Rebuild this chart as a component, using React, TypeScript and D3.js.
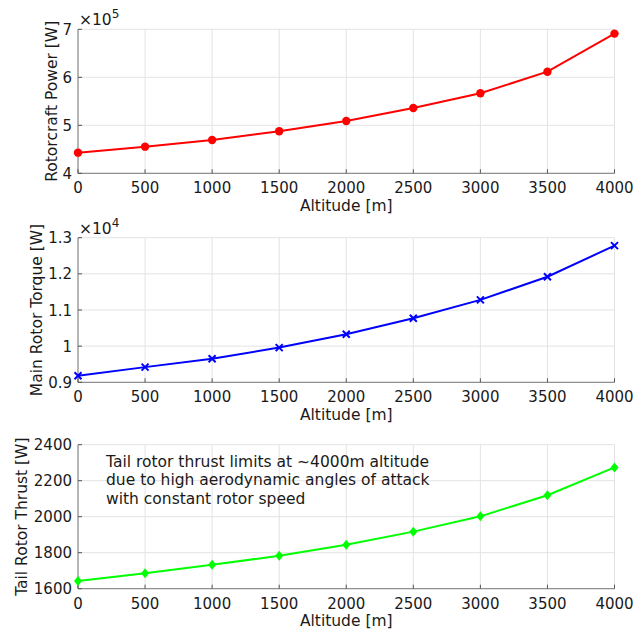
import * as d3 from "d3";

const ALTITUDES = [0, 500, 1000, 1500, 2000, 2500, 3000, 3500, 4000];
const X_TICKS = [0, 500, 1000, 1500, 2000, 2500, 3000, 3500, 4000];

// rotorcraft power, x1e5 W
const POWER = [4.43, 4.555, 4.695, 4.875, 5.09, 5.36, 5.667, 6.117, 6.91];
const POWER_TICKS = [4, 5, 6, 7];

// main rotor torque, x1e4
const TORQUE = [0.918, 0.942, 0.965, 0.996, 1.033, 1.077, 1.128, 1.192, 1.278];
const TORQUE_TICKS = [0.9, 1.0, 1.1, 1.2, 1.3];

// tail rotor thrust
const THRUST = [1643, 1686, 1733, 1783, 1844, 1917, 2002, 2119, 2274];
const THRUST_TICKS = [1600, 1800, 2000, 2200, 2400];

const NOTE = [
  "Tail rotor thrust limits at ~4000m altitude",
  "due to high aerodynamic angles of attack",
  "with constant rotor speed",
];

const FONT = "'DejaVu Sans', sans-serif";
const LEFT = 78;
const RIGHT = 614.5;
const TICK_FS = 15;
const LABEL_FS = 15.5;

type PanelProps = {
  top: number;
  bottom: number;
  values: number[];
  ticks: number[];
  domain: [number, number];
  color: string;
  marker: "circle" | "x" | "diamond";
  ylabel: string;
  ylabelX: number;
  exponent?: string;
  fmt: (v: number) => string;
};

function Panel(p: PanelProps) {
  const x = d3.scaleLinear().domain([0, 4000]).range([LEFT, RIGHT]);
  const y = d3.scaleLinear().domain(p.domain).range([p.bottom, p.top]);
  const line = d3
    .line<number>()
    .x((_, i) => x(ALTITUDES[i]))
    .y((d) => y(d));

  const marker = (cx: number, cy: number, i: number) => {
    if (p.marker === "circle")
      return <circle key={i} cx={cx} cy={cy} r={4.2} fill={p.color} />;
    if (p.marker === "x")
      return (
        <path
          key={i}
          d={`M${cx - 3.5},${cy - 3.5}L${cx + 3.5},${cy + 3.5}M${cx - 3.5},${cy + 3.5}L${cx + 3.5},${cy - 3.5}`}
          stroke={p.color}
          strokeWidth={2}
        />
      );
    return (
      <path
        key={i}
        d={`M${cx},${cy - 5}L${cx + 4},${cy}L${cx},${cy + 5}L${cx - 4},${cy}Z`}
        fill={p.color}
      />
    );
  };

  const midY = (p.top + p.bottom) / 2;

  return (
    <g>
      {X_TICKS.map((t) => (
        <line key={"gx" + t} x1={x(t)} x2={x(t)} y1={p.top} y2={p.bottom} stroke="#e3e3e3" />
      ))}
      {p.ticks.map((t) => (
        <line key={"gy" + t} x1={LEFT} x2={RIGHT} y1={y(t)} y2={y(t)} stroke="#e3e3e3" />
      ))}
      <line x1={LEFT} x2={RIGHT} y1={p.bottom} y2={p.bottom} stroke="#7a7a7a" />
      <line x1={LEFT} x2={LEFT} y1={p.top} y2={p.bottom} stroke="#7a7a7a" />
      {X_TICKS.map((t) => (
        <line key={"tx" + t} x1={x(t)} x2={x(t)} y1={p.bottom} y2={p.bottom - 4} stroke="#555" />
      ))}
      {p.ticks.map((t) => (
        <line key={"ty" + t} x1={LEFT} x2={LEFT + 4} y1={y(t)} y2={y(t)} stroke="#555" />
      ))}
      {X_TICKS.map((t) => (
        <text key={"lx" + t} x={x(t)} y={p.bottom + 20} fontSize={TICK_FS} textAnchor="middle" fill="#1a1a1a">
          {t}
        </text>
      ))}
      {p.ticks.map((t) => (
        <text key={"ly" + t} x={LEFT - 6} y={y(t) + 5.5} fontSize={TICK_FS} textAnchor="end" fill="#1a1a1a">
          {p.fmt(t)}
        </text>
      ))}
      <text x={(LEFT + RIGHT) / 2} y={p.bottom + 37.5} fontSize={LABEL_FS} textAnchor="middle" fill="#1a1a1a">
        Altitude [m]
      </text>
      <text
        transform={`translate(${p.ylabelX},${midY}) rotate(-90)`}
        fontSize={LABEL_FS}
        textAnchor="middle"
        fill="#1a1a1a"
      >
        {p.ylabel}
      </text>
      {p.exponent && (
        <text x={LEFT + 1} y={p.top - 4} fontSize={LABEL_FS} fill="#1a1a1a">
          ×10
          <tspan dy={-7} fontSize={12}>
            {p.exponent}
          </tspan>
        </text>
      )}
      <path d={line(p.values) ?? ""} fill="none" stroke={p.color} strokeWidth={2} />
      {p.values.map((v, i) => marker(x(ALTITUDES[i]), y(v), i))}
    </g>
  );
}

export default function App() {
  return (
    <svg
      width={634}
      height={631}
      style={{ position: "absolute", left: 0, top: 0, background: "#fff", fontFamily: FONT }}
    >
      <Panel
        top={29.3}
        bottom={173.3}
        values={POWER}
        ticks={POWER_TICKS}
        domain={[4, 7]}
        color="#ff0000"
        marker="circle"
        ylabel="Rotorcraft Power [W]"
        ylabelX={57}
        exponent="5"
        fmt={(v) => d3.format("~g")(v)}
      />
      <Panel
        top={237.7}
        bottom={382.3}
        values={TORQUE}
        ticks={TORQUE_TICKS}
        domain={[0.9, 1.3]}
        color="#0000ff"
        marker="x"
        ylabelX={42}
        ylabel="Main Rotor Torque [W]"
        exponent="4"
        fmt={(v) => d3.format("~g")(v)}
      />
      <Panel
        top={444.7}
        bottom={588.7}
        values={THRUST}
        ticks={THRUST_TICKS}
        domain={[1600, 2400]}
        color="#00ff00"
        marker="diamond"
        ylabelX={27}
        ylabel="Tail Rotor Thrust [W]"
        fmt={(v) => String(v)}
      />
      <g fontSize={15.5} fill="#1a1a1a">
        {NOTE.map((s, i) => (
          <text key={i} x={106} y={467 + i * 18.3}>
            {s}
          </text>
        ))}
      </g>
    </svg>
  );
}
